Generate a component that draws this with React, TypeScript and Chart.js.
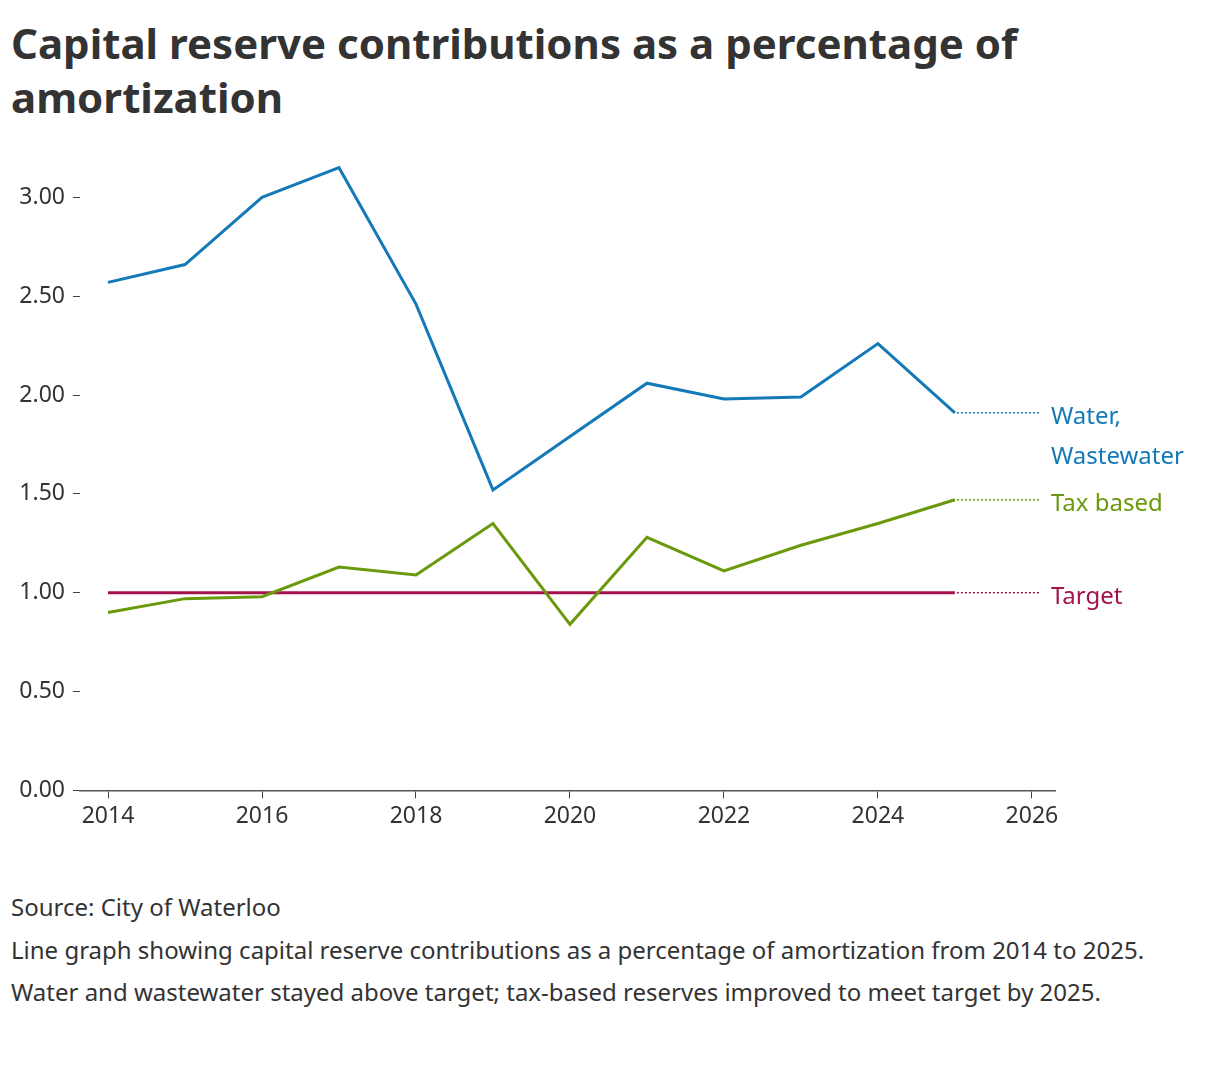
import React, { useEffect, useRef } from "react";
import { Chart, registerables } from "chart.js";
Chart.register(...registerables);

const years = [2014, 2015, 2016, 2017, 2018, 2019, 2020, 2021, 2022, 2023, 2024, 2025];
const water = [2.57, 2.66, 3.0, 3.15, 2.46, 1.52, 1.79, 2.06, 1.98, 1.99, 2.26, 1.91];
const tax = [0.9, 0.97, 0.98, 1.13, 1.09, 1.35, 0.84, 1.28, 1.11, 1.24, 1.35, 1.47];
const target = [1, 1, 1, 1, 1, 1, 1, 1, 1, 1, 1, 1];
const xTicks = [2014, 2016, 2018, 2020, 2022, 2024, 2026];
const yTicks = [0, 0.5, 1, 1.5, 2, 2.5, 3];
const seriesLabels = [["Water,", "Wastewater"], ["Tax based"], ["Target"]];
const colors = ["#1479b8", "#6a9a0c", "#a3124c"];
const FONT = "'Noto Sans', sans-serif";

export default function App() {
  const ref = useRef<HTMLCanvasElement>(null);
  useEffect(() => {
    const endLabels = {
      id: "endLabels",
      afterDatasetsDraw(chart: any) {
        const ctx = chart.ctx;
        const xs = chart.scales.x;
        const ys = chart.scales.y;
        chart.data.datasets.forEach((ds: any, i: number) => {
          const last = ds.data[ds.data.length - 1];
          const x0 = xs.getPixelForValue(last.x);
          const y0 = ys.getPixelForValue(last.y);
          ctx.save();
          ctx.strokeStyle = colors[i];
          ctx.lineWidth = 1.5;
          ctx.setLineDash([2, 2]);
          ctx.beginPath();
          ctx.moveTo(x0 + 2, y0);
          ctx.lineTo(x0 + 86, y0);
          ctx.stroke();
          ctx.setLineDash([]);
          ctx.fillStyle = colors[i];
          ctx.font = `24px ${FONT}`;
          ctx.textBaseline = "middle";
          seriesLabels[i].forEach((t, k) => ctx.fillText(t, x0 + 96, y0 + 4 + k * 40));
          ctx.restore();
        });
      },
    };
    const mk = (arr: number[]) => arr.map((v, i) => ({ x: years[i], y: v }));
    const chart = new Chart(ref.current!, {
      type: "line",
      data: {
        datasets: [water, tax, target].map((d, i) => ({
          data: mk(d),
          borderColor: colors[i],
          borderWidth: 3,
          pointRadius: 0,
          tension: 0,
        })),
      },
      options: {
        animation: false,
        responsive: false,
        layout: { padding: { top: 12, right: 157, left: 0, bottom: 22 } },
        plugins: { legend: { display: false }, tooltip: { enabled: false } },
        scales: {
          x: {
            type: "linear",
            min: 2013.636,
            max: 2026.3,
            afterBuildTicks: (s: any) => { s.ticks = xTicks.map((v) => ({ value: v })); },
            ticks: { color: "#333", font: { size: 23, family: FONT }, callback: (v: any) => String(v), maxRotation: 0, padding: 4 },
            grid: { drawOnChartArea: false, color: "#444", tickLength: 8 },
            border: { color: "#555", width: 1.5 },
          },
          y: {
            min: 0,
            max: 3.2,
            afterBuildTicks: (s: any) => { s.ticks = yTicks.map((v) => ({ value: v })); },
            afterFit: (s: any) => { s.width = 72; },
            ticks: { color: "#333", font: { size: 23, family: FONT }, callback: (v: any) => Number(v).toFixed(2), padding: 8 },
            grid: { drawOnChartArea: false, color: "#444", tickLength: 7 },
            border: { display: false },
          },
        },
      },
      plugins: [endLabels],
    });
    return () => chart.destroy();
  }, []);
  return (
    <div style={{ fontFamily: FONT, color: "#333", width: 1204 }}>
      <div style={{ fontSize: 42, fontWeight: 700, lineHeight: "54px", marginTop: 8, marginLeft: 3, color: "#333" }}>
        Capital reserve contributions as a percentage of amortization
      </div>
      <canvas ref={ref} width={1204} height={720} style={{ display: "block", marginTop: 12 }} />
      <div style={{ fontSize: 24, marginTop: 34, marginLeft: 3 }}>Source: City of Waterloo</div>
      <div style={{ fontSize: 24, lineHeight: "42px", marginTop: 6, marginLeft: 3 }}>
        Line graph showing capital reserve contributions as a percentage of amortization from 2014 to 2025. Water and wastewater stayed above target; tax-based reserves improved to meet target by 2025.
      </div>
    </div>
  );
}
